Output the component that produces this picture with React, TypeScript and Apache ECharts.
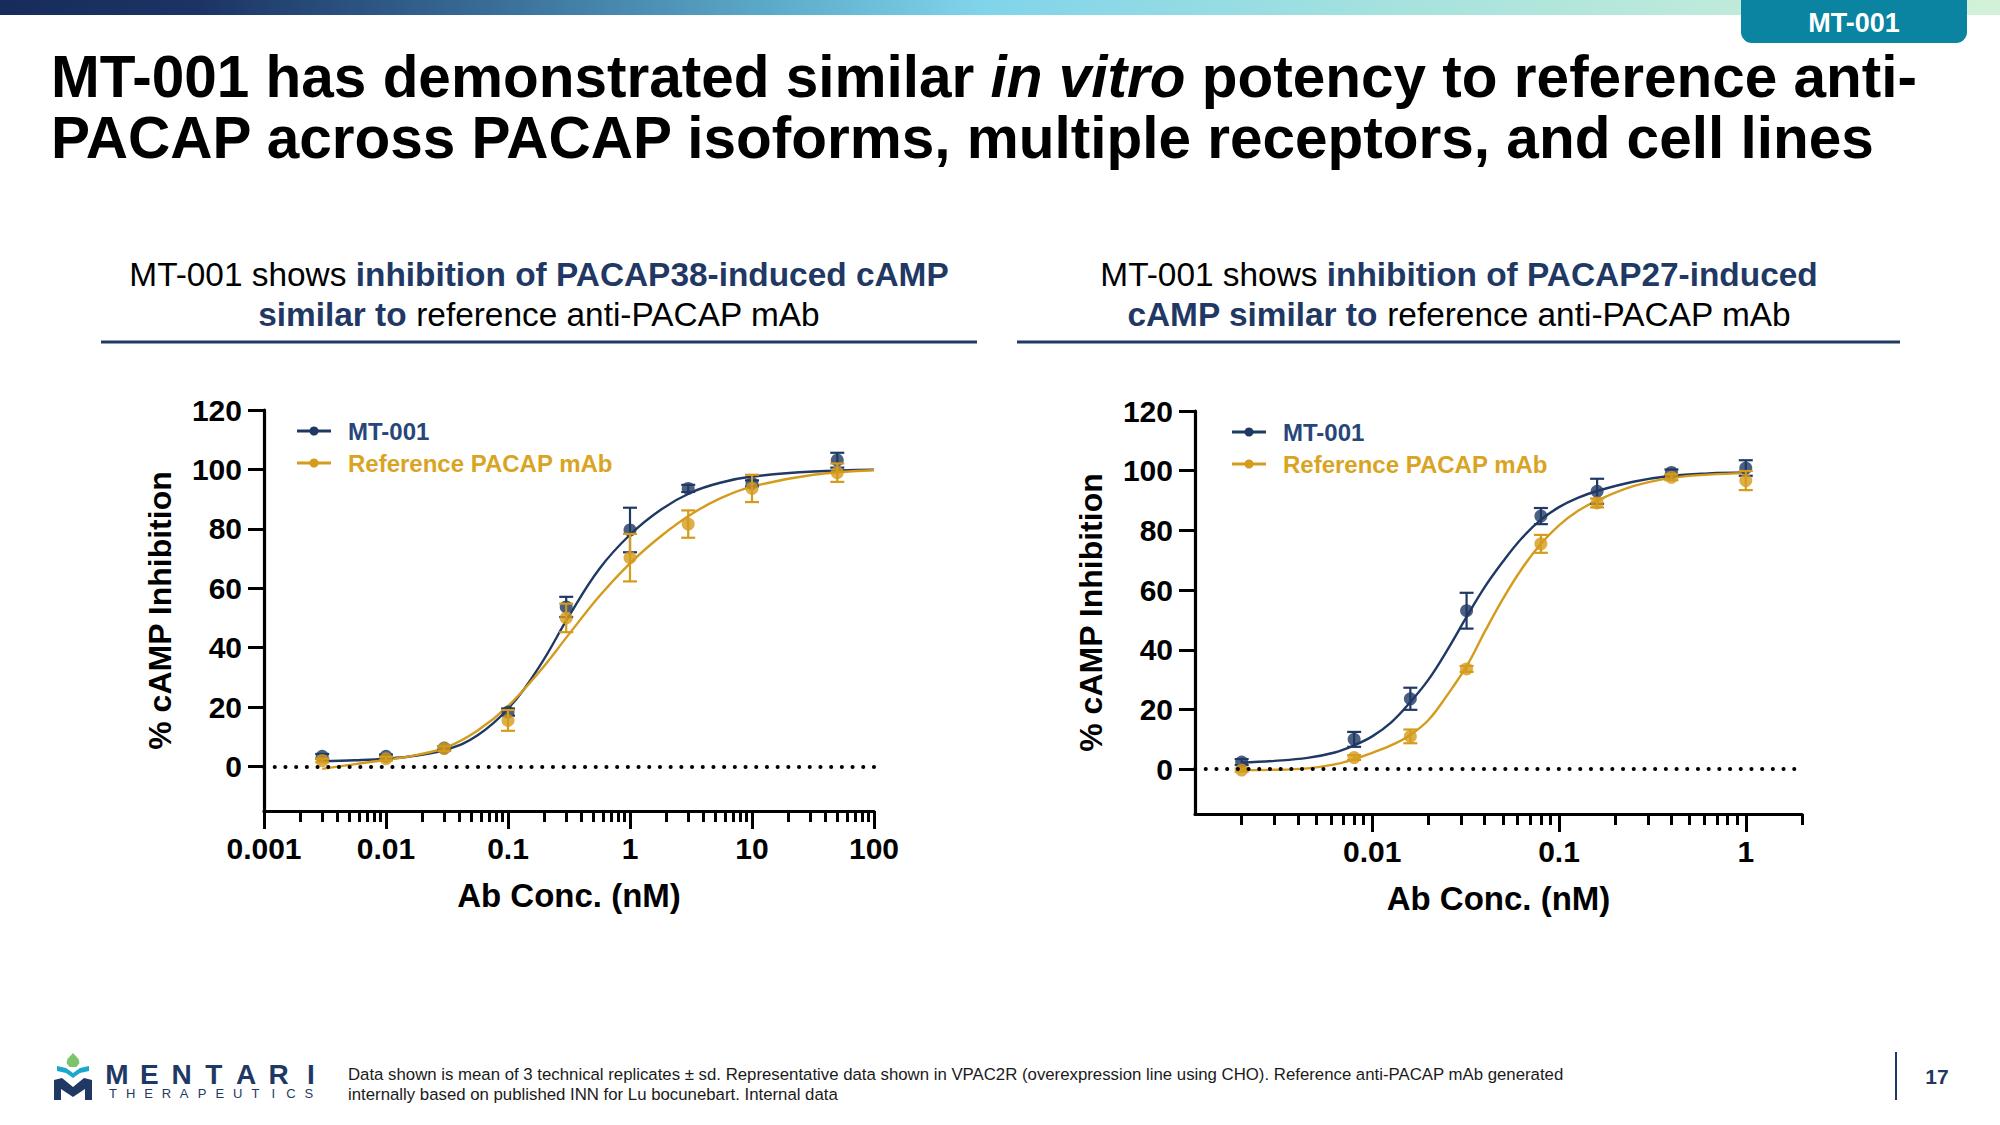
import React, { useEffect, useRef } from "react";
import * as echarts from "echarts";

const FONT = '"Liberation Sans", Arial, Helvetica, sans-serif';
const NAVY = "#1f3864";
const GOLD = "#d49b1c";

// ---------- Left chart: PACAP38 ----------
const leftConc = [0.003, 0.01, 0.03, 0.1, 0.3, 1, 3, 10, 50];
const leftMtMean = [3.4, 3.4, 6.2, 18.3, 53.7, 79.6, 93.6, 95.3, 103.1];
const leftMtSd = [0.8, 0.6, 0.6, 1.2, 3.4, 7.5, 1.2, 1.0, 2.5];
const leftRefMean = [2.0, 2.6, 6.0, 15.5, 50.0, 70.3, 81.6, 93.6, 98.9];
const leftRefSd = [0.6, 0.6, 0.8, 3.5, 4.8, 8.0, 4.6, 4.6, 3.1];
const leftCurveConc = [0.003, 0.0056, 0.01, 0.018, 0.032, 0.056, 0.1, 0.18, 0.32, 0.56, 1, 1.8, 3.2, 5.6, 10, 32, 100];
const leftMtCurve = [1.8, 2.1, 2.6, 3.7, 5.8, 10.4, 19.4, 33.5, 51.0, 66.5, 78, 86.5, 92.3, 95.6, 97.6, 99.3, 99.9];
const leftRefCurve = [-0.8, 0.8, 2.2, 3.9, 6.6, 12, 20.3, 31.8, 44.8, 57.3, 68.4, 77.6, 85.0, 90.4, 94.2, 98.2, 99.7];
const leftXTicks = [0.001, 0.01, 0.1, 1, 10, 100];
const leftXTickLabels = ["0.001", "0.01", "0.1", "1", "10", "100"];
const leftXRange = [0.001, 100];

// ---------- Right chart: PACAP27 ----------
const rightConc = [0.002, 0.008, 0.016, 0.032, 0.08, 0.16, 0.4, 1];
const rightMtMean = [2.4, 10.0, 23.6, 53.1, 84.8, 93.1, 99.4, 100.9];
const rightMtSd = [1.0, 2.5, 3.7, 6.0, 2.7, 4.2, 1.0, 2.6];
const rightRefMean = [-0.3, 3.9, 11.0, 33.6, 75.5, 89.2, 97.8, 96.7];
const rightRefSd = [0.5, 0.8, 2.3, 1.0, 3.0, 1.5, 1.0, 3.2];
const rightCurveConc = [0.002, 0.003, 0.0045, 0.0063, 0.008, 0.01, 0.0126, 0.016, 0.02, 0.025, 0.032, 0.04, 0.05, 0.063, 0.08, 0.1, 0.126, 0.16, 0.25, 0.4, 0.63, 1];
const rightMtCurve = [2.2, 2.8, 3.8, 5.6, 8.0, 11.0, 15.6, 22.5, 30, 39.5, 51, 61, 69.5, 77.3, 83.6, 87.8, 90.9, 93.2, 96.3, 98.3, 99.1, 99.4];
const rightRefCurve = [-0.3, -0.2, 0.3, 1.6, 3.4, 5.5, 8.0, 11.5, 16.5, 24.5, 34.5, 46, 57, 67, 75.5, 81.7, 86.5, 90, 94.8, 97.6, 98.7, 99.2];
const rightXTicks = [0.01, 0.1, 1];
const rightXTickLabels = ["0.01", "0.1", "1"];
const rightXRange = [0.001125, 2];

// ---------- Shared axis ----------
const yTicks = [0, 20, 40, 60, 80, 100, 120];
const yRange = [-15, 120];
const seriesNames = ["MT-001", "Reference PACAP mAb"];

const titleLine1 = ["MT-001 has demonstrated similar ", "in vitro", " potency to reference anti-"];
const titleLine2 = "PACAP across PACAP isoforms, multiple receptors, and cell lines";
const footnote1 = "Data shown is mean of 3 technical replicates \u00b1 sd. Representative data shown in VPAC2R (overexpression line using CHO). Reference anti-PACAP mAb generated";
const footnote2 = "internally based on published INN for Lu bocunebart. Internal data";

const lg = (v: number) => Math.log10(v);

function minorTicks(lo: number, hi: number): number[] {
  const out: number[] = [];
  for (let d = Math.floor(lg(lo)); d <= Math.ceil(lg(hi)); d++) {
    for (let k = 2; k <= 9; k++) {
      const v = k * Math.pow(10, d);
      if (v >= lo * 0.999 && v <= hi * 1.001) out.push(lg(v));
    }
  }
  return out;
}

function errorBarSeries(name: string, gridIdx: number, conc: number[], mean: number[], sd: number[], color: string, z: number) {
  return {
    type: "custom",
    name: name + " sd",
    xAxisIndex: gridIdx * 2,
    yAxisIndex: gridIdx,
    z,
    silent: true,
    encode: { x: 0, y: [1, 2] },
    data: conc.map((c, i) => [lg(c), mean[i] - sd[i], mean[i] + sd[i]]),
    renderItem: (params: any, api: any) => {
      const x = api.value(0);
      const top = api.coord([x, api.value(2)]);
      const bot = api.coord([x, api.value(1)]);
      const w = 7;
      const st = { stroke: color, lineWidth: 2.2 };
      return {
        type: "group",
        children: [
          { type: "line", shape: { x1: top[0], y1: top[1], x2: bot[0], y2: bot[1] }, style: st },
          { type: "line", shape: { x1: top[0] - w, y1: top[1], x2: top[0] + w, y2: top[1] }, style: st },
          { type: "line", shape: { x1: bot[0] - w, y1: bot[1], x2: bot[0] + w, y2: bot[1] }, style: st },
        ],
      };
    },
  };
}

function chartSeries(gridIdx: number, conc: number[], mtMean: number[], mtSd: number[], refMean: number[], refSd: number[], cConc: number[], mtCurve: number[], refCurve: number[]) {
  const xi = gridIdx * 2;
  return [
    {
      type: "line",
      name: seriesNames[0] + " fit",
      xAxisIndex: xi,
      yAxisIndex: gridIdx,
      z: 2,
      showSymbol: false,
      smooth: 0.4,
      silent: true,
      lineStyle: { color: NAVY, width: 2.4 },
      data: cConc.map((c, i) => [lg(c), mtCurve[i]]),
      markLine: {
        silent: true,
        symbol: ["none", "none"],
        label: { show: false },
        lineStyle: { color: "#000", width: 4, type: [0.1, 10.6], cap: "round" },
        data: [{ yAxis: 0 }],
      },
    },
    {
      type: "line",
      name: seriesNames[1] + " fit",
      xAxisIndex: xi,
      yAxisIndex: gridIdx,
      z: 2,
      showSymbol: false,
      smooth: 0.4,
      silent: true,
      lineStyle: { color: GOLD, width: 2.4 },
      data: cConc.map((c, i) => [lg(c), refCurve[i]]),
    },
    errorBarSeries(seriesNames[0], gridIdx, conc, mtMean, mtSd, NAVY, 3),
    {
      type: "scatter",
      name: seriesNames[0],
      xAxisIndex: xi,
      yAxisIndex: gridIdx,
      z: 3,
      symbol: "circle",
      symbolSize: 13,
      itemStyle: { color: NAVY },
      data: conc.map((c, i) => [lg(c), mtMean[i]]),
    },
    errorBarSeries(seriesNames[1], gridIdx, conc, refMean, refSd, GOLD, 4),
    {
      type: "scatter",
      name: seriesNames[1],
      xAxisIndex: xi,
      yAxisIndex: gridIdx,
      z: 4,
      symbol: "circle",
      symbolSize: 13,
      itemStyle: { color: GOLD },
      data: conc.map((c, i) => [lg(c), refMean[i]]),
    },
  ];
}

function xAxes(gridIdx: number, range: number[], ticks: number[], tickLabels: string[]) {
  const tickLogs = ticks.map(lg);
  const labelFor = (v: number) => {
    for (let i = 0; i < tickLogs.length; i++) if (Math.abs(tickLogs[i] - v) < 1e-6) return tickLabels[i];
    return "";
  };
  return [
    {
      type: "value",
      gridIndex: gridIdx,
      min: lg(range[0]),
      max: lg(range[1]),
      position: "bottom",
      name: "Ab Conc. (nM)",
      nameLocation: "middle",
      nameGap: 68,
      nameTextStyle: { fontFamily: FONT, fontWeight: "bold", fontSize: 33, color: "#000" },
      splitLine: { show: false },
      axisLine: { show: true, onZero: false, lineStyle: { color: "#000", width: 3.2 } },
      axisTick: { show: true, length: 18, lineStyle: { color: "#000", width: 3 }, customValues: tickLogs },
      axisLabel: {
        show: true,
        margin: 22,
        fontFamily: FONT,
        fontWeight: "bold",
        fontSize: 30,
        color: "#000",
        customValues: tickLogs,
        formatter: (v: number) => labelFor(v),
      },
    },
    {
      type: "value",
      gridIndex: gridIdx,
      min: lg(range[0]),
      max: lg(range[1]),
      position: "bottom",
      offset: 0,
      splitLine: { show: false },
      axisLine: { show: false, onZero: false },
      axisTick: { show: true, length: 11, lineStyle: { color: "#000", width: 3 }, customValues: minorTicks(range[0], range[1]) },
      axisLabel: { show: false },
    },
  ];
}

function yAxis(gridIdx: number) {
  return {
    type: "value",
    gridIndex: gridIdx,
    min: yRange[0],
    max: yRange[1],
    name: "% cAMP Inhibition",
    nameLocation: "middle",
    nameGap: 88,
    nameTextStyle: { fontFamily: FONT, fontWeight: "bold", fontSize: 32, color: "#000" },
    splitLine: { show: false },
    axisLine: { show: true, onZero: false, lineStyle: { color: "#000", width: 3.2 } },
    axisTick: { show: true, length: 16, lineStyle: { color: "#000", width: 3 }, customValues: yTicks },
    axisLabel: { show: true, margin: 22, fontFamily: FONT, fontWeight: "bold", fontSize: 30, color: "#000", customValues: yTicks },
  };
}

function legendGraphic(x0: number, y0: number) {
  const items: any[] = [];
  const colors = [NAVY, GOLD];
  const textColors = ["#27467a", "#d9a423"];
  seriesNames.forEach((n, i) => {
    const y = y0 + i * 32;
    items.push({ type: "line", shape: { x1: x0, y1: y, x2: x0 + 34, y2: y }, style: { stroke: colors[i], lineWidth: 3 } });
    items.push({ type: "circle", shape: { cx: x0 + 17, cy: y, r: 4.5 }, style: { fill: colors[i] } });
    items.push({
      type: "text",
      x: x0 + 51,
      y,
      style: { text: n, fill: textColors[i], font: `bold 24px ${FONT}`, verticalAlign: "middle", align: "left" },
    });
  });
  return items;
}

function logoGraphic() {
  const items: any[] = [];
  items.push({
    type: "polygon",
    shape: { points: [[73, 1053], [78.5, 1059], [79.5, 1063], [76.5, 1067], [69.5, 1067], [66.5, 1063], [67.5, 1059]] },
    style: { fill: "#7cc46c" },
  });
  items.push({
    type: "polygon",
    shape: { points: [[57, 1066], [66, 1068], [73, 1073], [80, 1068], [89, 1066], [89, 1071], [80, 1073], [73, 1078], [66, 1073], [57, 1071]] },
    style: { fill: "#1ba8cc" },
  });
  items.push({
    type: "polygon",
    shape: { points: [[54, 1100], [54, 1080], [62, 1078], [73, 1087], [84, 1078], [92, 1080], [92, 1100], [85, 1100], [85, 1089], [73, 1097], [61, 1089], [61, 1100]] },
    style: { fill: NAVY },
  });
  const big = "MENTARI";
  for (let i = 0; i < big.length; i++) {
    items.push({
      type: "text",
      x: 117 + i * 32.3,
      y: 1074,
      style: { text: big[i], fill: NAVY, font: `bold 28px ${FONT}`, align: "center", verticalAlign: "middle" },
    });
  }
  const small = "THERAPEUTICS";
  for (let i = 0; i < small.length; i++) {
    items.push({
      type: "text",
      x: 113 + i * 17.8,
      y: 1093,
      style: { text: small[i], fill: NAVY, font: `13px ${FONT}`, align: "center", verticalAlign: "middle" },
    });
  }
  return items;
}

export default function App() {
  const ref = useRef<HTMLDivElement>(null);
  useEffect(() => {
    if (!ref.current) return;
    document.body.style.margin = "0";
    const chart = echarts.init(ref.current, null, { renderer: "svg" });
    const option: any = {
      animation: false,
      backgroundColor: "#ffffff",
      grid: [
        { left: 264, top: 410, width: 610, height: 401 },
        { left: 1195, top: 411, width: 607, height: 403 },
      ],
      xAxis: [...xAxes(0, leftXRange, leftXTicks, leftXTickLabels), ...xAxes(1, rightXRange, rightXTicks, rightXTickLabels)],
      yAxis: [yAxis(0), yAxis(1)],
      series: [
        ...chartSeries(0, leftConc, leftMtMean, leftMtSd, leftRefMean, leftRefSd, leftCurveConc, leftMtCurve, leftRefCurve),
        ...chartSeries(1, rightConc, rightMtMean, rightMtSd, rightRefMean, rightRefSd, rightCurveConc, rightMtCurve, rightRefCurve),
      ],
      graphic: [
        {
          type: "rect",
          shape: { x: 0, y: 0, width: 2000, height: 15 },
          style: {
            fill: new echarts.graphic.LinearGradient(0, 0, 1, 0, [
              { offset: 0, color: "#172c5b" },
              { offset: 0.1, color: "#1b3465" },
              { offset: 0.25, color: "#3a6f9a" },
              { offset: 0.38, color: "#5aa8c8" },
              { offset: 0.49, color: "#80d4ea" },
              { offset: 0.7, color: "#a6e2de" },
              { offset: 1, color: "#d3f1d8" },
            ]),
          },
        },
        { type: "rect", shape: { x: 1741, y: -12, width: 226, height: 55, r: 11 }, style: { fill: "#0a84a1" } },
        { type: "text", x: 1854, y: 23, style: { text: "MT-001", fill: "#fff", font: `bold 27px ${FONT}`, align: "center", verticalAlign: "middle" } },
        {
          type: "text",
          x: 51,
          y: 76,
          style: {
            text: `{b|${titleLine1[0]}}{i|${titleLine1[1]}}{b|${titleLine1[2]}}`,
            verticalAlign: "middle",
            rich: {
              b: { fontFamily: FONT, fontWeight: "bold", fontSize: 58.5, fill: "#000" },
              i: { fontFamily: FONT, fontWeight: "bold", fontStyle: "italic", fontSize: 58.5, fill: "#000" },
            },
          },
        },
        { type: "text", x: 51, y: 137, style: { text: titleLine2, fill: "#000", font: `bold 58.5px ${FONT}`, verticalAlign: "middle" } },
        {
          type: "text",
          x: 539,
          y: 294,
          style: {
            text: "{n|MT-001 shows }{b|inhibition of PACAP38-induced cAMP}\n{b|similar to}{n| reference anti-PACAP mAb}",
            align: "center",
            verticalAlign: "middle",
            rich: {
              n: { fontFamily: FONT, fontSize: 33.4, fill: "#000", lineHeight: 40 },
              b: { fontFamily: FONT, fontSize: 33.4, fontWeight: "bold", fill: NAVY, lineHeight: 40 },
            },
          },
        },
        {
          type: "text",
          x: 1459,
          y: 294,
          style: {
            text: "{n|MT-001 shows }{b|inhibition of PACAP27-induced}\n{b|cAMP similar to}{n| reference anti-PACAP mAb}",
            align: "center",
            verticalAlign: "middle",
            rich: {
              n: { fontFamily: FONT, fontSize: 33.4, fill: "#000", lineHeight: 40 },
              b: { fontFamily: FONT, fontSize: 33.4, fontWeight: "bold", fill: NAVY, lineHeight: 40 },
            },
          },
        },
        { type: "line", shape: { x1: 101, y1: 342, x2: 977, y2: 342 }, style: { stroke: NAVY, lineWidth: 3 } },
        { type: "line", shape: { x1: 1017, y1: 342, x2: 1900, y2: 342 }, style: { stroke: NAVY, lineWidth: 3 } },
        ...legendGraphic(297, 431),
        ...legendGraphic(1232, 432),
        ...logoGraphic(),
        { type: "text", x: 348, y: 1074, style: { text: footnote1, fill: "#1a1a1a", font: `16.8px ${FONT}`, verticalAlign: "middle" } },
        { type: "text", x: 348, y: 1094, style: { text: footnote2, fill: "#1a1a1a", font: `16.8px ${FONT}`, verticalAlign: "middle" } },
        { type: "line", shape: { x1: 1896, y1: 1052, x2: 1896, y2: 1100 }, style: { stroke: NAVY, lineWidth: 2 } },
        { type: "text", x: 1937, y: 1076, style: { text: "17", fill: NAVY, font: `bold 21px ${FONT}`, align: "center", verticalAlign: "middle" } },
      ],
    };
    chart.setOption(option);
    return () => chart.dispose();
  }, []);
  return <div ref={ref} style={{ position: "fixed", left: 0, top: 0, width: 2000, height: 1125, background: "#fff" }} />;
}
